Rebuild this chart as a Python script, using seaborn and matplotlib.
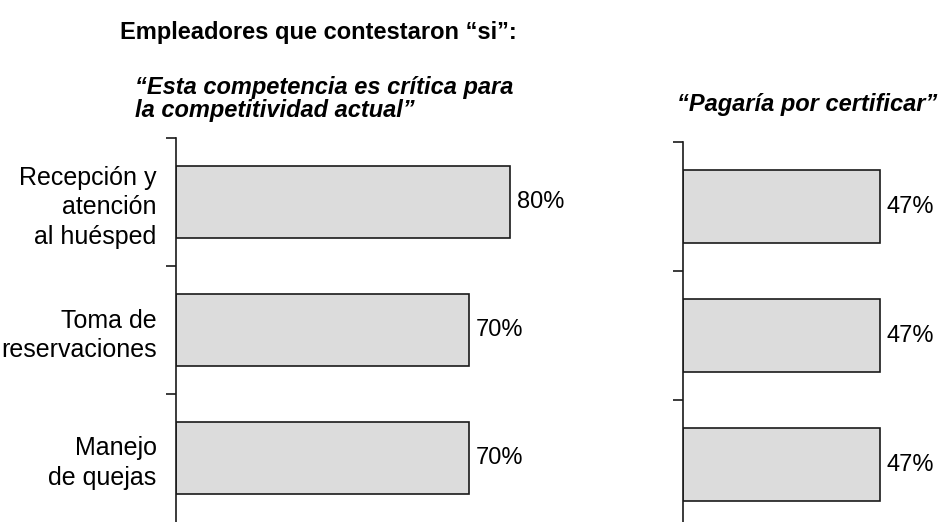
import matplotlib.pyplot as plt
import seaborn as sns
import pandas as pd

competencias = ['Recepción y\natención\nal huésped', 'Toma de\nreservaciones', 'Manejo\nde quejas']
critica = [80, 70, 70]
pagaria = [47, 47, 47]

df = pd.DataFrame({'competencia': competencias, 'critica': critica, 'pagaria': pagaria})

sns.set_theme(style='white')
plt.rcParams['font.family'] = ['Liberation Sans', 'DejaVu Sans']
plt.rcParams['text.color'] = 'black'
plt.rcParams['ytick.labelcolor'] = 'black'

fig = plt.figure(figsize=(9.41, 5.22), dpi=100)
ax1 = fig.add_axes([176 / 941, 0, 418 / 941, 384 / 522])
ax2 = fig.add_axes([683 / 941, -7 / 522, 251 / 941, 387 / 522])

for ax, col, xmax in [(ax1, 'critica', 100), (ax2, 'pagaria', 60)]:
    sns.barplot(data=df, x=col, y='competencia', orient='h', color='#dcdcdc',
                edgecolor='#1a1a1a', linewidth=1.2, width=0.56, saturation=1, ax=ax)
    ax.bar_label(ax.containers[0], fmt='%d%%', padding=5, fontsize=17, color='black')
    ax.set_xlim(0, xmax)
    ax.set_ylim(2.5, -0.5)
    ax.set_xlabel('')
    ax.set_ylabel('')
    ax.xaxis.set_visible(False)
    for s in ['top', 'right', 'bottom']:
        ax.spines[s].set_visible(False)
    ax.spines['left'].set_color('#1a1a1a')
    ax.spines['left'].set_linewidth(1.2)
    # marcas entre categorias
    ax.set_yticks([-0.5, 0.5, 1.5], minor=True)
    ax.tick_params(axis='y', which='minor', length=7, width=1.2, color='#1a1a1a', left=True)
    ax.tick_params(axis='y', which='major', length=0, pad=14, labelsize=18)

ax1.set_yticks(range(len(competencias)))
ax1.set_yticklabels(competencias, ha='right', fontsize=18, linespacing=1.3)
ax2.set_yticks(range(len(competencias)))
ax2.set_yticklabels([])

fig.text(120 / 941, 1 - 32 / 522, 'Empleadores que contestaron “si”:', fontsize=17,
         fontweight='bold', va='center', ha='left')
fig.text(135 / 941, 1 - 99 / 522, '“Esta competencia es crítica para\nla competitividad actual”',
         fontsize=17, fontweight='bold', fontstyle='italic', va='center', ha='left',
         linespacing=1.05)
fig.text(937 / 941, 1 - 105 / 522, '“Pagaría por certificar”', fontsize=17,
         fontweight='bold', fontstyle='italic', va='center', ha='right')

plt.savefig('out.png', dpi=100)
